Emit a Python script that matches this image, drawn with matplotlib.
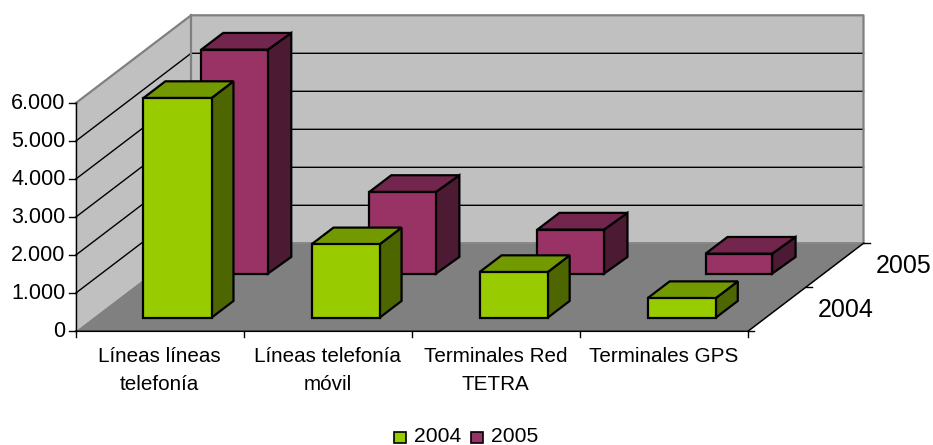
import matplotlib
matplotlib.use('Agg')
import matplotlib.pyplot as plt
from matplotlib.patches import Polygon, Rectangle

plt.rcParams['font.family'] = ['Liberation Sans', 'DejaVu Sans']

categories = ['Líneas líneas\ntelefonía', 'Líneas telefonía\nmóvil',
              'Terminales Red\nTETRA', 'Terminales GPS']
series_names = ['2004', '2005']
values_2004 = [5780, 1930, 1200, 515]
values_2005 = [5895, 2150, 1160, 525]
y_ticks = [0, 1000, 2000, 3000, 4000, 5000, 6000]
y_labels = ['0', '1.000', '2.000', '3.000', '4.000', '5.000', '6.000']

colors_2004 = ('#99CC00', '#739900', '#4D6600')
colors_2005 = ('#993366', '#73264D', '#4D1A33')

# oblique projection, all in image pixels
X0, Y0 = 75.5, 331.3
CAT_W = 168.1
DEPTH_X, DEPTH_Y = 57.8, -44.0
PX_PER_UNIT = 38.0 / 1000


def proj(cat, depth, val):
    return (X0 + cat * CAT_W + depth * DEPTH_X,
            Y0 + depth * DEPTH_Y - val * PX_PER_UNIT)


def face(ax, pts, color, z, lw=1.6, ec='black'):
    ax.add_patch(Polygon([proj(*p) for p in pts], closed=True, fc=color,
                         ec=ec, lw=lw, zorder=z, joinstyle='miter'))


def bar3d(ax, cat, depth, val, cols, z):
    c0, c1 = cat + 0.2975, cat + 0.7025
    # back row front faces come out a bit narrower in the original
    cf = c1 - 0.009 * depth
    d0, d1 = depth + 0.31, depth + 0.69
    face(ax, [(cf, d0, 0), (c1, d1, 0), (c1, d1, val), (cf, d0, val)], cols[2], z)
    face(ax, [(c0, d0, val), (cf, d0, val), (c1, d1, val), (c0, d1, val)], cols[1], z)
    face(ax, [(c0, d0, 0), (cf, d0, 0), (cf, d0, val), (c0, d0, val)], cols[0], z)


n = len(categories)
top = y_ticks[-1]

fig = plt.figure(figsize=(9.33, 4.45), dpi=100)
ax = fig.add_axes([0, 0, 1, 1])
ax.set_xlim(0, 933)
ax.set_ylim(445, 0)
ax.axis('off')

# walls and floor
face(ax, [(0, 0, 0), (0, 2, 0), (0, 2, top), (0, 0, top)], '#C0C0C0', 1, ec='none')
face(ax, [(0, 2, 0), (n, 2, 0), (n, 2, top), (0, 2, top)], '#C0C0C0', 1, ec='none')
face(ax, [(0, 0, 0), (n, 0, 0), (n, 2, 0), (0, 2, 0)], '#808080', 1, ec='none')

# gridlines
for v in y_ticks[1:-1]:
    pts = [proj(0, 0, v), proj(0, 2, v), proj(n, 2, v)]
    ax.plot(*zip(*pts), color='black', lw=1, zorder=2)

# wall borders
border = [proj(0, 0, top), proj(0, 2, top), proj(n, 2, top), proj(n, 2, 0)]
ax.plot(*zip(*border), color='#808080', lw=1.6, zorder=2)
ax.plot(*zip(proj(0, 2, 0), proj(0, 2, top)), color='#808080', lw=1.6, zorder=2)
ax.plot(*zip(proj(0, 2, 0), proj(n, 2, 0)), color='#808080', lw=1.2, zorder=2)

# axes lines
ax.plot(*zip(proj(0, 0, 0), proj(0, 0, top)), color='black', lw=1, zorder=3)
ax.plot(*zip(proj(0, 0, 0), proj(n, 0, 0), proj(n, 2, 0)), color='black', lw=1.1, zorder=3)

# value axis ticks
for v, lab in zip(y_ticks, y_labels):
    x, y = proj(0, 0, v)
    ax.plot([x - 6.5, x], [y, y], color='black', lw=1, zorder=3)
    ax.text(x - 10, y, lab, ha='right', va='center', fontsize=15.5, zorder=4)

# category ticks and labels
for i in range(n + 1):
    x, y = proj(i, 0, 0)
    ax.plot([x, x], [y, y + 6], color='black', lw=1, zorder=3)
for i, lab in enumerate(categories):
    x, y = proj(i + 0.5, 0, 0)
    ax.text(x, y + 16, lab, ha='center', va='top', fontsize=14.9,
            linespacing=1.6, zorder=4)

# depth axis ticks and labels
for d in range(3):
    x, y = proj(n, d, 0)
    ax.plot([x, x + 6], [y, y], color='black', lw=1, zorder=3)
for d, lab in enumerate(series_names):
    x, y = proj(n, d + 0.5, 0)
    ax.text(x + 41, y + 0.5, lab, ha='left', va='center', fontsize=18, zorder=4)

# bars, back row first so the front row covers it
for d, vals, cols in [(1, values_2005, colors_2005), (0, values_2004, colors_2004)]:
    for i, v in enumerate(vals):
        bar3d(ax, i, d, v, cols, 5 + (1 - d))

# legend
for px, tx, name, cols in [(393.5, 414, series_names[0], colors_2004),
                           (471, 491.5, series_names[1], colors_2005)]:
    ax.add_patch(Rectangle((px, 432), 12, 11, fc=cols[0], ec='black', lw=1.2, zorder=5))
    ax.text(tx, 436.5, name, ha='left', va='center', fontsize=15.2, zorder=5)

fig.savefig('out.png', dpi=100)
